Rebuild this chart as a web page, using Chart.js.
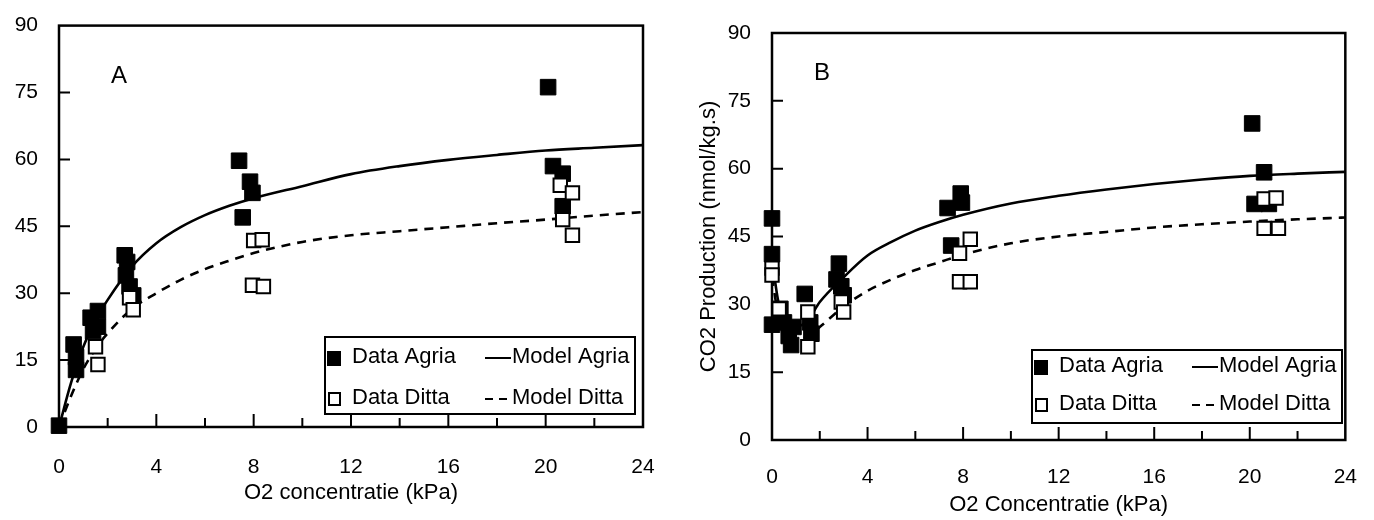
<!DOCTYPE html>
<html>
<head>
<meta charset="utf-8">
<script src="https://cdn.jsdelivr.net/npm/chart.js@4.4.1/dist/chart.umd.min.js"></script>
<style>
  body { margin: 0; background: #fff; }
  #wrap { position: relative; width: 1374px; height: 520px; }
  canvas { position: absolute; top: 0; }
  #chartA { left: 0; }
  #chartB { left: 687px; }
</style>
</head>
<body>
<div id="wrap">
  <canvas id="chartA" width="687" height="520"></canvas>
  <canvas id="chartB" width="687" height="520"></canvas>
</div>
<script>
// axes
const xTicks = [0, 4, 8, 12, 16, 20, 24];
const xMinorTicks = [2, 6, 10, 14, 18, 22];
const yTicks = [0, 15, 30, 45, 60, 75, 90];

// panel A - measured points [O2 kPa, CO2 production]
const agriaA = [[0, 0.3], [0.6, 18.5], [0.7, 15.7], [0.7, 12.8], [1.3, 24.5], [1.6, 26], [1.4, 21.5], [1.6, 22.5],
  [2.7, 38.5], [2.8, 37], [2.75, 34], [2.9, 31.5], [3.05, 29.5],
  [7.4, 59.7], [7.85, 55], [7.95, 52.5], [7.55, 47],
  [20.1, 76.2], [20.3, 58.5], [20.7, 56.8], [20.7, 49.5]];
const dittaA = [[1.5, 18], [1.6, 14], [2.9, 29], [3.05, 26.3],
  [8.0, 41.8], [8.35, 42], [7.95, 31.8], [8.4, 31.5],
  [20.6, 54.2], [21.1, 52.5], [20.7, 46.5], [21.1, 43]];

// panel A - model curves
const modelXA = [0, 0.5, 1, 1.5, 2, 3, 4, 5, 6, 7, 8, 10, 12, 14, 16, 18, 20, 22, 24];
const modelAgriaA = [0, 10, 18, 24, 28.5, 36, 41.2, 44.8, 47.5, 49.6, 51.3, 54, 56.7, 58.5, 59.9, 61, 62, 62.6, 63.2];
const modelDittaA = [0, 7, 13, 17.5, 21, 26.5, 30, 33, 35.4, 37.3, 39, 41.5, 43, 43.9, 44.8, 45.7, 46.5, 47.4, 48.2];

// panel B - measured points
const agriaB = [[0, 49], [0, 41.1], [0, 25.5], [0.35, 29], [0.5, 26], [0.7, 23], [0.8, 21], [0.9, 25],
  [1.37, 32.3], [1.6, 26], [1.65, 23.5],
  [2.8, 39], [2.7, 35.5], [2.9, 34], [3.0, 32],
  [7.35, 51.3], [7.9, 54.5], [7.95, 52.5], [7.5, 43],
  [20.1, 70], [20.6, 59.2], [20.2, 52.2], [20.8, 52.2]];
const dittaB = [[0, 38], [0, 36.5], [0.3, 29], [1.5, 28.3], [1.5, 20.6], [2.9, 30.5], [3.0, 28.3],
  [8.3, 44.4], [7.85, 41.3], [7.85, 35], [8.3, 35],
  [20.6, 53.3], [21.1, 53.5], [20.6, 46.8], [21.2, 46.8]];

// panel B - model curves
const modelXB = [0, 0.25, 0.5, 1, 1.5, 2, 3, 4, 5, 6, 7, 8, 10, 12, 14, 16, 18, 20, 22, 24];
const modelAgriaB = [40, 31, 26.5, 25, 26.5, 30.5, 36, 40.8, 43.8, 46.3, 48.2, 49.8, 52.3, 54, 55.4, 56.6, 57.6, 58.4, 58.9, 59.3];
const modelDittaB = [36, 28, 24, 22, 23, 25, 29.5, 33, 35.5, 37.6, 39.3, 41, 43.5, 45, 46, 47, 47.7, 48.3, 48.8, 49.2];

Chart.defaults.font.family = '"Liberation Sans", Arial, sans-serif';
Chart.defaults.color = '#000';

const pts = arr => arr.map(p => ({ x: p[0], y: p[1] }));
const curve = (xs, ys) => xs.map((x, i) => ({ x: x, y: ys[i] }));

const framePlugin = {
  id: 'frame',
  beforeDatasetsDraw(chart) {
    const { ctx, chartArea: a, scales: { x, y } } = chart;
    ctx.save();
    ctx.strokeStyle = '#000';
    ctx.lineWidth = 2.5;
    ctx.strokeRect(a.left, a.top, a.right - a.left, a.bottom - a.top);
    ctx.lineWidth = 2;
    ctx.beginPath();
    xTicks.slice(1, -1).forEach(v => {
      const px = x.getPixelForValue(v);
      ctx.moveTo(px, a.bottom); ctx.lineTo(px, a.bottom - 13);
    });
    xMinorTicks.forEach(v => {
      const px = x.getPixelForValue(v);
      ctx.moveTo(px, a.bottom); ctx.lineTo(px, a.bottom - 9);
    });
    yTicks.slice(1, -1).forEach(v => {
      const py = y.getPixelForValue(v);
      ctx.moveTo(a.left, py); ctx.lineTo(a.left + 11, py);
    });
    ctx.stroke();
    ctx.restore();
  },
  afterDatasetsDraw(chart, args, opts) {
    const { ctx, chartArea: a } = chart;
    const ds = chart.data.datasets;
    ctx.save();
    ctx.fillStyle = '#000';
    ctx.font = '24px "Liberation Sans", Arial, sans-serif';
    ctx.textBaseline = 'middle';
    ctx.textAlign = 'center';
    ctx.fillText(opts.letter, a.left + opts.letterX, a.top + opts.letterY);

    // legend box
    const L = opts.legend;
    ctx.fillStyle = '#fff';
    ctx.fillRect(L.left, L.top, L.width, L.height);
    ctx.strokeStyle = '#000';
    ctx.lineWidth = 2;
    ctx.strokeRect(L.left, L.top, L.width, L.height);

    const r1 = L.top + L.row1, r2 = L.top + L.row2;
    // filled marker
    ctx.fillStyle = ds[1].backgroundColor;
    ctx.fillRect(L.left + 2, r1 - 6, 14, 15);
    // open marker
    ctx.fillStyle = ds[0].backgroundColor;
    ctx.lineWidth = 2;
    ctx.fillRect(L.left + 4, r2 - 5, 11, 12);
    ctx.strokeRect(L.left + 4, r2 - 5, 11, 12);

    // line samples
    ctx.strokeStyle = ds[2].borderColor;
    ctx.lineWidth = 2;
    ctx.beginPath();
    ctx.moveTo(L.left + 160, r1 + 1); ctx.lineTo(L.left + 186, r1 + 1);
    ctx.stroke();
    ctx.setLineDash([8, 6]);
    ctx.beginPath();
    ctx.moveTo(L.left + 160, r2 + 1); ctx.lineTo(L.left + 184, r2 + 1);
    ctx.stroke();
    ctx.setLineDash([]);

    ctx.fillStyle = '#000';
    ctx.font = '22px "Liberation Sans", Arial, sans-serif';
    ctx.textAlign = 'left';
    ctx.fillText(ds[1].label, L.left + 27, r1);
    ctx.fillText(ds[0].label, L.left + 27, r2);
    ctx.fillText(ds[2].label, L.left + 187, r1);
    ctx.fillText(ds[3].label, L.left + 187, r2);
    ctx.restore();
  }
};

function makeChart(id, cfg) {
  const ctx = document.getElementById(id).getContext('2d');
  return new Chart(ctx, {
    type: 'scatter',
    data: {
      datasets: [
        { label: 'Data Ditta', data: pts(cfg.ditta), pointStyle: 'rect', pointRadius: 9.5,
          backgroundColor: '#fff', borderColor: '#000', borderWidth: 2, clip: false },
        { label: 'Data Agria', data: pts(cfg.agria), pointStyle: 'rect', pointRadius: 11,
          backgroundColor: '#000', borderColor: '#000', borderWidth: 1, clip: false },
        { label: 'Model Agria', data: curve(cfg.modelX, cfg.modelAgria), showLine: true, pointRadius: 0,
          borderColor: '#000', borderWidth: 2.6, cubicInterpolationMode: 'monotone' },
        { label: 'Model Ditta', data: curve(cfg.modelX, cfg.modelDitta), showLine: true, pointRadius: 0,
          borderColor: '#000', borderWidth: 2.6, borderDash: [9, 7], cubicInterpolationMode: 'monotone' }
      ]
    },
    options: {
      responsive: false,
      animation: false,
      events: [],
      layout: { padding: cfg.padding },
      scales: {
        x: {
          type: 'linear', min: 0, max: 24,
          afterBuildTicks: s => { s.ticks = xTicks.map(v => ({ value: v })); },
          afterFit: s => { s.height = cfg.xHeight; },
          grid: { display: false },
          border: { display: false },
          ticks: { padding: cfg.xTickPad, font: { size: 21 }, color: '#000', maxRotation: 0 },
          title: { display: true, text: cfg.xTitle, font: { size: 22 }, color: '#000',
                   padding: { top: 0, bottom: cfg.xTitlePad } }
        },
        y: {
          min: 0, max: 90,
          afterBuildTicks: s => { s.ticks = yTicks.map(v => ({ value: v })); },
          afterFit: s => { s.width = cfg.yWidth; },
          grid: { display: false },
          border: { display: false },
          ticks: { padding: 13, font: { size: 21 }, color: '#000' },
          title: { display: !!cfg.yTitle, text: cfg.yTitle || '', font: { size: 22 }, color: '#000',
                   padding: { top: 9, bottom: 0 } }
        }
      },
      plugins: {
        legend: { display: false },
        tooltip: { enabled: false },
        frame: cfg.frame
      }
    },
    plugins: [framePlugin]
  });
}

makeChart('chartA', {
  agria: agriaA, ditta: dittaA, modelX: modelXA, modelAgria: modelAgriaA, modelDitta: modelDittaA,
  padding: { left: 0, top: 20, right: 44, bottom: 0 },
  xHeight: 93, yWidth: 59, xTickPad: 20, xTitlePad: 14,
  xTitle: 'O2 concentratie (kPa)',
  frame: { letter: 'A', letterX: 60, letterY: 51,
           legend: { left: 325, top: 337, width: 310, height: 77, row1: 20, row2: 61 } }
});

makeChart('chartB', {
  agria: agriaB, ditta: dittaB, modelX: modelXB, modelAgria: modelAgriaB, modelDitta: modelDittaB,
  padding: { left: 0, top: 33, right: 22, bottom: 0 },
  xHeight: 80, yWidth: 85, xTickPad: 17, xTitlePad: 2,
  xTitle: 'O2 Concentratie (kPa)',
  yTitle: 'CO2 Production (nmol/kg.s)',
  frame: { letter: 'B', letterX: 50, letterY: 40,
           legend: { left: 345, top: 350, width: 310, height: 73, row1: 16, row2: 54 } }
});
</script>
</body>
</html>
